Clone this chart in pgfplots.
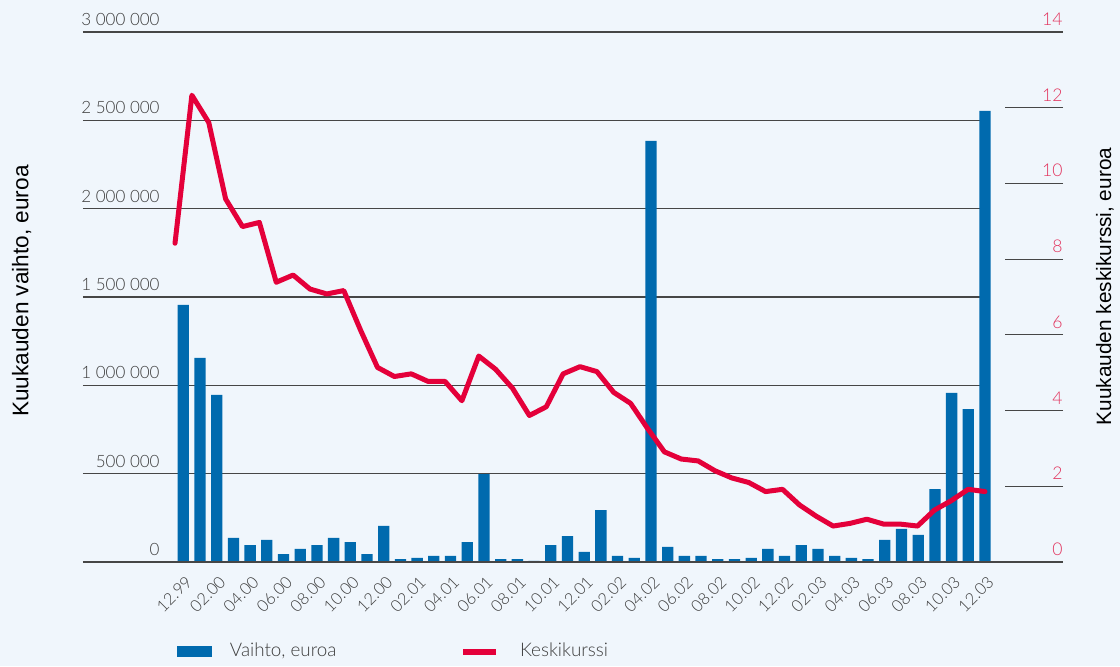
\documentclass[border=0pt]{standalone}
\usepackage{pgfplots}
\pgfplotsset{compat=1.18}
\usepackage{fontspec}
\setmainfont{Lato}[UprightFont=* Light]
\newfontfamily\arialfont{Liberation Sans}
\definecolor{bg}{RGB}{240,246,252}
\definecolor{barblue}{RGB}{0,106,174}
\definecolor{linered}{RGB}{228,0,58}
\definecolor{ticklab}{RGB}{60,60,60}
\definecolor{rightlab}{RGB}{226,52,94}
\definecolor{gridc}{RGB}{70,70,70}
\begin{document}
\begin{tikzpicture}
\fill[bg] (0,0) rectangle (560pt,333pt);
\useasboundingbox (0,0) rectangle (560pt,333pt);
\begin{axis}[
  at={(41.5pt,52pt)}, anchor=south west,
  scale only axis, width=451pt, height=265pt,
  xmin=-6.006, xmax=48, ymin=0, ymax=3000000,
  clip=false,
  axis line style={draw=none},
  major tick length=0pt,
  scaled y ticks=false,
  ytick={0,500000,1000000,1500000,2000000,2500000,3000000},
  yticklabels={0,500 000,1 000 000,1 500 000,2 000 000,2 500 000,3 000 000},
  ymajorgrids,
  major grid style={gridc, line width=0.6pt},
  yticklabel style={font=\fontsize{8.5}{10}\selectfont, text=ticklab, anchor=south east, inner sep=0pt, xshift=38.5pt, yshift=3pt},
  xtick={0,2,...,48},
  xticklabels={12.99,02.00,04.00,06.00,08.00,10.00,12.00,02.01,04.01,06.01,08.01,10.01,12.01,02.02,04.02,06.02,08.02,10.02,12.02,02.03,04.03,06.03,08.03,10.03,12.03},
  xticklabel style={font=\fontsize{8.2}{10}\selectfont, text=ticklab, inner sep=0pt, xshift=3pt, yshift=-8.5pt, rotate=45, anchor=east},
  every axis y label/.style={at={(axis description cs:-0.068,0.5113)}, rotate=90, anchor=center},
  ylabel={\arialfont\fontsize{11.3}{13}\selectfont Kuukauden vaihto, euroa},
  legend style={at={(0.1042,-0.1689)}, anchor=west, draw=none, fill=none, inner sep=0pt, outer sep=0pt, cells={anchor=west}, nodes={inner sep=0pt, text=ticklab}, font=\fontsize{9.4}{11}\selectfont},
]
\addplot[ybar, bar width=5.65pt, fill=barblue, draw=none,
  legend image code/.code={\fill[barblue] (0pt,-2.75pt) rectangle (17.5pt,2.75pt); \path[draw=none, fill=none] (0pt,0pt) -- (26.5pt,0pt);}]
coordinates {
(0,1455000) (1,1155000) (2,946000) (3,136000) (4,96000) (5,125000) (6,45000) (7,74000) (8,96000) (9,136000)
(10,113000) (11,45000) (12,204000) (13,17000) (14,23000) (15,34000) (16,34000) (17,113000) (18,497000) (19,17000)
(20,17000) (21,6000) (22,96000) (23,147000) (24,57000) (25,294000) (26,34000) (27,23000) (28,2384000) (29,85000)
(30,34000) (31,34000) (32,17000) (33,17000) (34,23000) (35,74000) (36,34000) (37,96000) (38,74000) (39,34000)
(40,23000) (41,17000) (42,125000) (43,187000) (44,153000) (45,413000) (46,957000) (47,866000) (48,2553000)
};
\addlegendentry{Vaihto, euroa}
\end{axis}
\begin{axis}[
  at={(41.5pt,52pt)}, anchor=south west,
  scale only axis, width=490pt, height=265pt,
  xmin=-5.452, xmax=52.622, ymin=0, ymax=14,
  axis line style={draw=none},
  xtick=\empty,
  ytick={2,4,6,8,10,12},
  ytick pos=right, yticklabel pos=right,
  tick align=inside,
  major tick length=29.25pt,
  tick style={gridc, line width=0.6pt},
  extra y ticks={0,14},
  extra y tick style={grid=major, major grid style={gridc, line width=0.6pt}, major tick length=0pt},
  /pgf/number format/assume math mode=true,
  yticklabel style={font=\fontsize{8.8}{10}\selectfont, text=rightlab, anchor=south east, inner sep=0pt, yshift=3pt},
  every axis y label/.style={at={(axis description cs:1.0429,0.5198)}, rotate=90, anchor=center},
  ylabel={\arialfont\fontsize{10.4}{12}\selectfont Kuukauden keskikurssi, euroa},
  legend style={at={(0.3847,-0.1689)}, anchor=west, draw=none, fill=none, inner sep=0pt, outer sep=0pt, cells={anchor=west}, nodes={inner sep=0pt, text=ticklab}, font=\fontsize{9.4}{11}\selectfont},
]
\addplot[linered, line width=2.5pt, line join=round, line cap=round,
  legend image code/.code={\draw[linered, line width=3pt, line cap=butt] (0pt,0pt) -- (16.5pt,0pt); \path[draw=none, fill=none] (0pt,0pt) -- (28.5pt,0pt);}]
coordinates {
(0,8.42) (1,12.33) (2,11.61) (3,9.59) (4,8.86) (5,8.97) (6,7.39) (7,7.58) (8,7.21) (9,7.08)
(10,7.17) (11,6.12) (12,5.14) (13,4.90) (14,4.97) (15,4.77) (16,4.77) (17,4.26) (18,5.44) (19,5.09)
(20,4.59) (21,3.87) (22,4.10) (23,4.97) (24,5.16) (25,5.03) (26,4.48) (27,4.19) (28,3.53) (29,2.91)
(30,2.72) (31,2.67) (32,2.41) (33,2.22) (34,2.10) (35,1.86) (36,1.92) (37,1.51) (38,1.21) (39,0.95)
(40,1.02) (41,1.13) (42,1.00) (43,1.00) (44,0.95) (45,1.37) (46,1.62) (47,1.92) (48,1.86)
};
\addlegendentry{Keskikurssi}
\end{axis}
\end{tikzpicture}
\end{document}
